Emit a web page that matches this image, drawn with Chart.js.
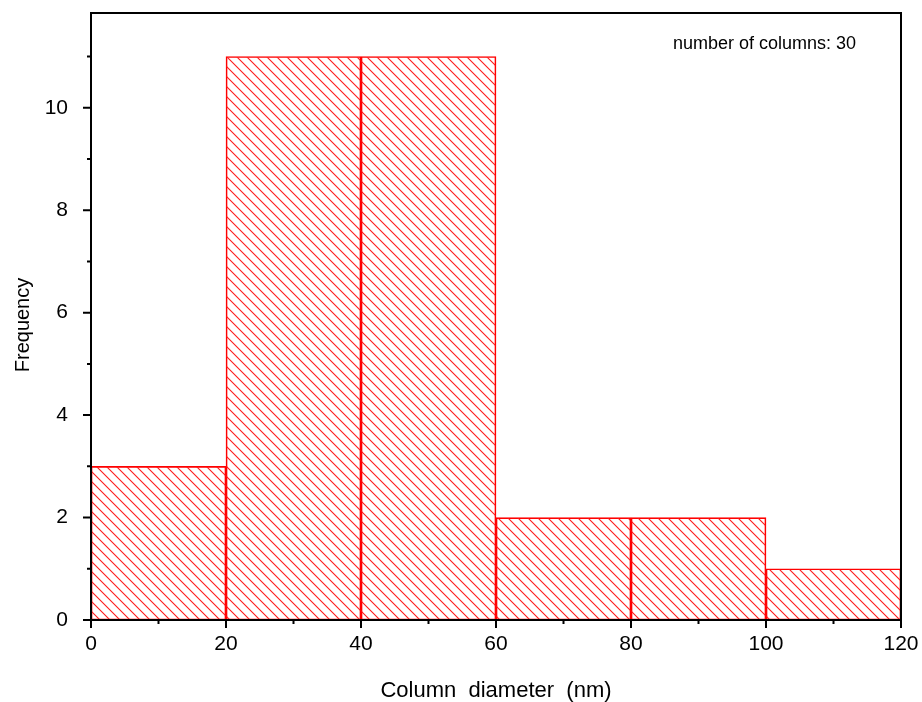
<!DOCTYPE html>
<html>
<head>
<meta charset="utf-8">
<script src="https://cdn.jsdelivr.net/npm/chart.js@4.4.1/dist/chart.umd.min.js"></script>
<style>
  html, body { margin: 0; padding: 0; background: #fff; }
  #wrap { width: 922px; height: 702px; }
</style>
</head>
<body>
<div id="wrap"><canvas id="histChart" width="922" height="702"></canvas></div>
<script>
// histogram bins (nm) and counts
const binStarts = [0, 20, 40, 60, 80, 100];
const binWidth = 20;
const counts = [3, 11, 11, 2, 2, 1];

const xTicks = [0, 20, 40, 60, 80, 100, 120];
const xMinor = [10, 30, 50, 70, 90, 110];
const yTicks = [0, 2, 4, 6, 8, 10];
const yMinor = [1, 3, 5, 7, 9, 11];

const note = "number of columns: 30";

(function () {
    // diagonal hatch "\\\" like the original
    let tile = document.createElement("canvas");
    tile.width = 10;
    tile.height = 10;
    let t = tile.getContext("2d");
    t.strokeStyle = "#ff1a1a";
    t.lineWidth = 1.1;
    t.beginPath();
    t.moveTo(-2, -2); t.lineTo(12, 12);
    t.moveTo(-2, 8); t.lineTo(2, 12);
    t.moveTo(8, -2); t.lineTo(12, 2);
    t.stroke();

    let ctx = document.getElementById("histChart").getContext("2d");
    let hatch = ctx.createPattern(tile, "repeat");

    let datas = {
        datasets: [{
            label: "Frequency",
            data: binStarts.map((s, i) => ({ x: s + binWidth / 2, y: counts[i] })),
            backgroundColor: hatch,
            borderColor: "#ff0000",
            borderWidth: 1,
            borderSkipped: false,
            barPercentage: 1,
            categoryPercentage: 1,
        }]
    };

    let font = "'Liberation Sans', Arial, sans-serif";

    let framePlugin = {
        id: "frame",
        beforeDraw(chart) {
            let c = chart.ctx;
            c.save();
            c.fillStyle = "#fff";
            c.fillRect(0, 0, chart.width, chart.height);
            c.restore();
        },
        afterDatasetsDraw(chart) {
            let c = chart.ctx;
            let a = chart.chartArea;
            let xs = chart.scales.x, ys = chart.scales.y;
            c.save();
            c.strokeStyle = "#000";
            c.lineWidth = 2;
            c.strokeRect(a.left, a.top, a.right - a.left, a.bottom - a.top);
            c.beginPath();
            yTicks.forEach(v => { let p = ys.getPixelForValue(v); c.moveTo(a.left - 8, p); c.lineTo(a.left, p); });
            yMinor.forEach(v => { let p = ys.getPixelForValue(v); c.moveTo(a.left - 4, p); c.lineTo(a.left, p); });
            xTicks.forEach(v => { let p = xs.getPixelForValue(v); c.moveTo(p, a.bottom); c.lineTo(p, a.bottom + 8); });
            xMinor.forEach(v => { let p = xs.getPixelForValue(v); c.moveTo(p, a.bottom); c.lineTo(p, a.bottom + 4); });
            c.stroke();
            c.fillStyle = "#000";
            c.font = "18px " + font;
            c.textBaseline = "alphabetic";
            c.fillText(note, 673, 49);
            // y axis title
            c.translate(23, 325);
            c.rotate(-Math.PI / 2);
            c.font = "20px " + font;
            c.textAlign = "center";
            c.textBaseline = "middle";
            c.fillText("Frequency", 0, 0);
            c.restore();
        }
    };

    let option = {
        responsive: false,
        animation: false,
        layout: { padding: { top: 13, right: 21, left: 0, bottom: 0 } },
        plugins: {
            legend: { display: false },
            tooltip: { enabled: false }
        },
        scales: {
            x: {
                type: "linear",
                min: 0,
                max: 120,
                offset: false,
                afterFit(s) { s.height = 82; s.paddingLeft = 0; s.paddingRight = 0; },
                afterBuildTicks(s) { s.ticks = xTicks.map(v => ({ value: v })); },
                grid: { display: false, drawTicks: false, offset: false },
                border: { display: false },
                ticks: { padding: 12, color: "#000", font: { family: font, size: 21 } },
                title: {
                    display: true,
                    text: "Column  diameter  (nm)",
                    color: "#000",
                    font: { family: font, size: 22, lineHeight: 1 },
                    padding: { top: 0, bottom: 0 }
                }
            },
            y: {
                min: 0,
                max: 11.85,
                afterFit(s) { s.width = 91; s.paddingTop = 0; s.paddingBottom = 0; },
                afterBuildTicks(s) { s.ticks = yTicks.map(v => ({ value: v })); },
                grid: { display: false, drawTicks: false },
                border: { display: false },
                ticks: { padding: 23, color: "#000", font: { family: font, size: 21 } }
            }
        }
    };

    let myChart = new Chart(ctx, {
        type: "bar",
        data: datas,
        options: option,
        plugins: [framePlugin],
    });
})();
</script>
</body>
</html>
